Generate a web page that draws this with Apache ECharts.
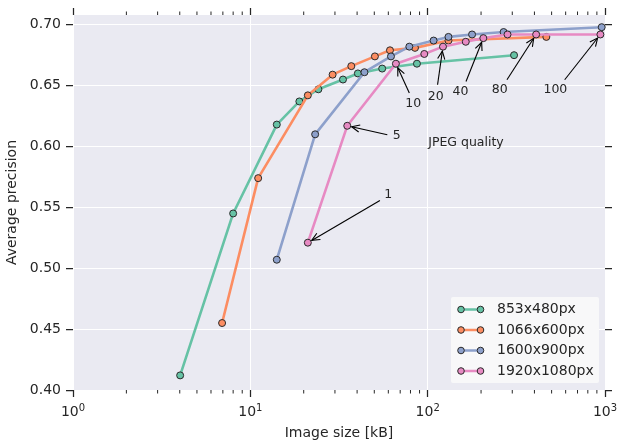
<!DOCTYPE html>
<html>
<head>
<meta charset="utf-8">
<script src="https://cdn.jsdelivr.net/npm/echarts@6/dist/echarts.min.js"></script>
<style>
  html, body { margin: 0; padding: 0; background: #ffffff; }
  #chart { width: 618px; height: 441px; }
</style>
</head>
<body>
<div id="chart"></div>
<script>
// Detection precision against compressed image size, one curve per resolution
const seriesNames = ['853x480px', '1066x600px', '1600x900px', '1920x1080px'];
const seriesColors = ['#66c2a5', '#fc8d62', '#8da0cb', '#e78ac3'];

// JPEG quality steps shared by all curves
const qualities = [1, 5, 10, 15, 20, 30, 40, 60, 80, 100];

// image size [kB] and average precision per resolution
const sizes853 = [4.02, 8.0, 14.1, 18.9, 24.2, 33.3, 40.4, 55.4, 87.0, 307];
const ap853 = [0.412, 0.545, 0.618, 0.637, 0.647, 0.655, 0.660, 0.664, 0.668, 0.675];
const sizes1066 = [6.93, 11.07, 21.1, 29.1, 37.1, 50.4, 61.3, 84.8, 131, 467];
const ap1066 = [0.455, 0.574, 0.642, 0.659, 0.666, 0.674, 0.679, 0.681, 0.687, 0.690];
const sizes1600 = [14.1, 23.2, 44.0, 62.1, 78.8, 108, 131, 178, 268, 958];
const ap1600 = [0.507, 0.610, 0.661, 0.674, 0.682, 0.687, 0.690, 0.692, 0.694, 0.698];
const sizes1920 = [21.1, 35.2, 66.2, 95.7, 122, 164, 206, 282, 409, 942];
const ap1920 = [0.521, 0.617, 0.668, 0.676, 0.682, 0.686, 0.689, 0.692, 0.692, 0.692];

// axis ticks
const xTicks = [1, 10, 100, 1000];
const yTicks = [0.40, 0.45, 0.50, 0.55, 0.60, 0.65, 0.70];

// quality call-outs on the 1920x1080 curve: label, label centre, arrow start, point index
const annoLabels = ['1', '5', '10', '20', '40', '80', '100'];
const annoTextPos = [[60, 0.5603], [67, 0.6088], [83, 0.6348], [111, 0.6411], [153, 0.6449], [255, 0.6463], [525, 0.6463]];
const annoFrom = [[53.8, 0.5556], [59.2, 0.6096], [78.8, 0.6439], [113.7, 0.6507], [164.5, 0.6534], [280, 0.6548], [592.5, 0.6548]];
const annoTarget = [0, 1, 2, 4, 6, 8, 9];
const captionText = 'JPEG quality';
const captionPos = [164.5, 0.6028];

const allSizes = [sizes853, sizes1066, sizes1600, sizes1920];
const allAp = [ap853, ap1066, ap1600, ap1920];

const TEXT = '#262626';
const FONT = 'DejaVu Sans';

// minor log ticks 2..9 in each decade
const minorTicks = [];
for (let d = 1; d < 1000; d *= 10) {
  for (let k = 2; k <= 9; k++) minorTicks.push(d * k);
}

const chart = echarts.init(document.getElementById('chart'), null, { renderer: 'canvas' });

const lineSeries = seriesNames.map((name, i) => ({
  name: name,
  type: 'line',
  xAxisIndex: 0,
  yAxisIndex: 0,
  data: allSizes[i].map((s, j) => [s, allAp[i][j]]),
  symbol: 'circle',
  symbolSize: 7,
  showSymbol: true,
  lineStyle: { color: seriesColors[i], width: 2.6 },
  itemStyle: { color: seriesColors[i], borderColor: '#2a2a2a', borderWidth: 1 },
  emphasis: { disabled: true },
  z: 3 + i
}));

const tickStyle = { color: TEXT, width: 1.25 };

const option = {
  animation: false,
  textStyle: { fontFamily: FONT },
  grid: {
    left: 73, right: 13, top: 15, bottom: 51,
    outerBoundsMode: 'none',
    containLabel: false,
    show: true, backgroundColor: '#eaeaf2', borderWidth: 0
  },
  xAxis: [
    {
      type: 'log', logBase: 10, min: 1, max: 1000, position: 'bottom',
      axisLine: { show: false },
      axisTick: { show: true, length: 7, lineStyle: tickStyle },
      axisLabel: {
        margin: 13,
        color: TEXT,
        formatter: v => '{b|10}{s|' + Math.round(Math.log10(v)) + '}',
        rich: {
          b: { fontSize: 14, color: TEXT, fontFamily: FONT },
          s: { fontSize: 10, color: TEXT, fontFamily: FONT, padding: [0, 0, 9, 0] }
        }
      },
      splitLine: { show: true, lineStyle: { color: '#ffffff', width: 1 } },
      name: 'Image size [kB]',
      nameLocation: 'middle',
      nameGap: 36,
      nameTextStyle: { fontSize: 14, color: TEXT, fontFamily: FONT, verticalAlign: 'top' }
    },
    {
      type: 'log', logBase: 10, min: 1, max: 1000, position: 'top',
      axisLine: { show: false },
      axisTick: { show: true, length: 7, lineStyle: tickStyle },
      axisLabel: { show: false },
      splitLine: { show: false }
    }
  ],
  yAxis: [
    {
      type: 'value', min: 0.40, max: 0.708, interval: 0.05, position: 'left',
      axisLine: { show: false },
      axisTick: { show: true, length: 7, lineStyle: tickStyle, customValues: yTicks },
      axisLabel: {
        margin: 12, color: TEXT, fontSize: 14, fontFamily: FONT,
        customValues: yTicks,
        formatter: v => v.toFixed(2)
      },
      splitLine: { show: true, lineStyle: { color: '#ffffff', width: 1 } },
      name: 'Average precision',
      nameLocation: 'middle',
      nameGap: 46,
      nameTextStyle: { fontSize: 14, color: TEXT, fontFamily: FONT }
    },
    {
      type: 'value', min: 0.40, max: 0.708, interval: 0.05, position: 'right',
      axisLine: { show: false },
      axisTick: { show: true, length: 7, lineStyle: tickStyle, customValues: yTicks },
      axisLabel: { show: false },
      splitLine: { show: false }
    }
  ],
  series: lineSeries.concat([{
    type: 'custom',
    name: 'minor-ticks',
    xAxisIndex: 0,
    yAxisIndex: 0,
    clip: false,
    silent: true,
    z: 1,
    data: minorTicks.map(v => [v, 0.40]),
    renderItem: function (params, api) {
      const x = api.coord([api.value(0), api.value(1)])[0];
      const cs = params.coordSys;
      const yb = cs.y + cs.height;
      const yt = cs.y;
      const st = { stroke: TEXT, lineWidth: 1 };
      return {
        type: 'group',
        children: [
          { type: 'line', shape: { x1: x, y1: yb, x2: x, y2: yb + 3.5 }, style: st },
          { type: 'line', shape: { x1: x, y1: yt, x2: x, y2: yt - 3.5 }, style: st }
        ]
      };
    }
  }])
};

chart.setOption(option);

// call-outs, arrows and legend are placed through the axes' own scales
function toPx(p) { return chart.convertToPixel({ xAxisIndex: 0, yAxisIndex: 0 }, p); }

const graphics = [];
const pinkIdx = 3;
annoLabels.forEach((lab, i) => {
  const tp = toPx(annoTextPos[i]);
  graphics.push({
    type: 'text', x: tp[0], y: tp[1], z: 20,
    style: { text: lab, fill: TEXT, font: '12.5px "DejaVu Sans"', align: 'center', verticalAlign: 'middle' }
  });
  const a = toPx(annoFrom[i]);
  const k = annoTarget[i];
  const b0 = toPx([allSizes[pinkIdx][k], allAp[pinkIdx][k]]);
  const dx = b0[0] - a[0], dy = b0[1] - a[1];
  const len = Math.sqrt(dx * dx + dy * dy);
  const ux = dx / len, uy = dy / len;
  const shrink = 4.5;
  const bx = b0[0] - ux * shrink, by = b0[1] - uy * shrink;
  const hl = 8, hw = 3.6;
  const px = -uy, py = ux;
  graphics.push({
    type: 'polyline', z: 20, silent: true,
    shape: { points: [[a[0], a[1]], [bx, by]] },
    style: { stroke: '#000000', lineWidth: 1.1, fill: null }
  });
  graphics.push({
    type: 'polyline', z: 20, silent: true,
    shape: { points: [
      [bx - ux * hl + px * hw, by - uy * hl + py * hw],
      [bx, by],
      [bx - ux * hl - px * hw, by - uy * hl - py * hw]
    ] },
    style: { stroke: '#000000', lineWidth: 1.1, fill: null }
  });
});
const cp = toPx(captionPos);
graphics.push({
  type: 'text', x: cp[0], y: cp[1], z: 20,
  style: { text: captionText, fill: TEXT, font: '12.5px "DejaVu Sans"', align: 'center', verticalAlign: 'middle' }
});

// legend box in the lower right corner of the plot
const lgX = 451, lgY = 297, lgW = 148, lgH = 86;
graphics.push({
  type: 'rect', z: 30, silent: true,
  shape: { x: lgX, y: lgY, width: lgW, height: lgH, r: 2 },
  style: { fill: '#f8f8f9', stroke: null }
});
seriesNames.forEach((name, i) => {
  const cy = lgY + 12.5 + i * 20.5;
  const x1 = lgX + 10, x2 = lgX + 29.5;
  graphics.push({
    type: 'line', z: 31, silent: true,
    shape: { x1: x1, y1: cy, x2: x2, y2: cy },
    style: { stroke: seriesColors[i], lineWidth: 2.5 }
  });
  [x1, x2].forEach(cx => graphics.push({
    type: 'circle', z: 32, silent: true,
    shape: { cx: cx, cy: cy, r: 3.3 },
    style: { fill: seriesColors[i], stroke: '#2a2a2a', lineWidth: 1 }
  }));
  graphics.push({
    type: 'text', z: 32, x: lgX + 46, y: cy,
    style: { text: name, fill: TEXT, font: '14px "DejaVu Sans"', align: 'left', verticalAlign: 'middle' }
  });
});

chart.setOption({ graphic: graphics });
</script>
</body>
</html>
